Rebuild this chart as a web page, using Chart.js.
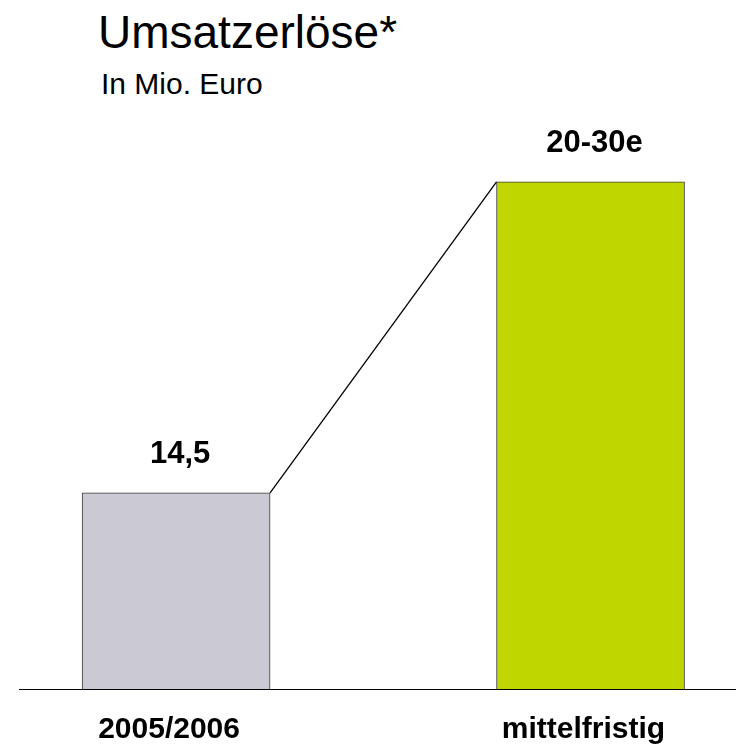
<!DOCTYPE html>
<html lang="de">
<head>
<meta charset="utf-8">
<title>Umsatzerlöse</title>
<script src="https://cdn.jsdelivr.net/npm/chart.js@4.4.1/dist/chart.umd.min.js"></script>
<style>
  body { margin: 0; background: #fff; }
  #wrap { position: relative; width: 736px; height: 744px; overflow: hidden; }
  #chart { position: absolute; left: 0; top: 0; }
  .title { position: absolute; left: 98px; top: 9px; font: 46px/46px "Liberation Sans", Arial, sans-serif; color: #000; margin: 0; white-space: nowrap; }
  .subtitle { position: absolute; left: 101px; top: 69px; font: 30px/30px "Liberation Sans", Arial, sans-serif; color: #000; margin: 0; white-space: nowrap; }
</style>
</head>
<body>
<div id="wrap">
  <div class="title">Umsatzerlöse*</div>
  <div class="subtitle">In Mio. Euro</div>
  <canvas id="chart" width="736" height="744"></canvas>
</div>
<script>
// Chart data
const categories = ['2005/2006', 'mittelfristig'];
const values = [14.5, 37.5];
const valueLabels = ['14,5', '20-30e'];
const barColors = ['#cbc9d4', '#bfd600'];

const FONT = '"Liberation Sans", Arial, sans-serif';

// Draws the connecting line between the bar tops and the value labels
const connectorAndLabels = {
  id: 'connectorAndLabels',
  afterDatasetsDraw(chart) {
    const ctx = chart.ctx;
    const bars = chart.getDatasetMeta(0).data;
    ctx.save();
    const a = bars[0];
    const b = bars[1];
    ctx.beginPath();
    ctx.moveTo(a.x + a.width / 2, a.y);
    ctx.lineTo(b.x - b.width / 2, b.y);
    ctx.strokeStyle = '#000';
    ctx.lineWidth = 1.3;
    ctx.stroke();

    ctx.font = 'bold 31px ' + FONT;
    ctx.fillStyle = '#000';
    ctx.textAlign = 'center';
    ctx.textBaseline = 'alphabetic';
    bars.forEach((bar, i) => {
      ctx.fillText(valueLabels[i], bar.x + 4, bar.y - 30);
    });
    ctx.restore();
  }
};

new Chart(document.getElementById('chart'), {
  type: 'bar',
  data: {
    datasets: [{
      data: values.map((v, i) => ({ x: i, y: v })),
      backgroundColor: barColors,
      borderColor: '#3a3a3a',
      borderWidth: 1,
      barThickness: 188
    }]
  },
  options: {
    responsive: false,
    animation: false,
    devicePixelRatio: 1,
    layout: { padding: { top: 148, left: 19, right: 0, bottom: 0 } },
    plugins: {
      legend: { display: false },
      tooltip: { enabled: false }
    },
    scales: {
      x: {
        type: 'linear',
        offset: false,
        min: -0.379,
        max: 1.351,
        afterFit: (scale) => { scale.height = 55; },
        grid: { display: false, offset: false },
        border: { display: true, color: '#000', width: 1 },
        ticks: {
          stepSize: 1,
          includeBounds: false,
          autoSkip: false,
          maxRotation: 0,
          padding: 18,
          labelOffset: -7,
          color: '#000',
          font: { family: FONT, size: 30, weight: 'bold', lineHeight: 1 },
          callback: (v) => Number.isInteger(v) ? categories[Math.abs(v)] : ''
        }
      },
      y: {
        display: false,
        min: 0,
        max: 40
      }
    }
  },
  plugins: [connectorAndLabels]
});
</script>
</body>
</html>
